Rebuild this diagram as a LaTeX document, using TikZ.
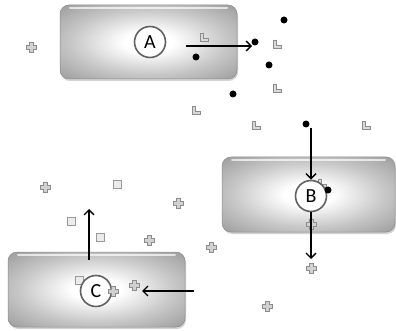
\documentclass[tikz,border=0pt]{standalone}
\usepackage{fontspec}
\setmainfont{Carlito}
\usetikzlibrary{arrows.meta,shadows}
\pgfdeclareradialshading{boxshade}{\pgfpoint{0bp}{0bp}}{color(0bp)=(white); color(7bp)=(white); color(22bp)=(black!22); color(38bp)=(black!42); color(50bp)=(black!58); color(70bp)=(black!70)}
\tikzset{
  cellbox/.style={rounded corners=9pt, draw=black!45, line width=0.5pt,
    shading=boxshade,
    drop shadow={shadow xshift=1pt, shadow yshift=-2pt, opacity=0.35}},
  gloss/.style={white, line width=2pt, opacity=0.7, line cap=round},
  ring/.style={circle, draw=black!62, line width=1.6pt, fill=white,
    minimum size=31pt, inner sep=0pt, font=\fontsize{20}{20}\selectfont},
  flow/.style={line width=1.4pt, -{Straight Barb[length=5pt,width=10pt,line width=1.4pt]}},
  dot/.style={circle, fill=black, inner sep=0pt, minimum size=7pt},
  plusmk/.pic={\filldraw[fill=black!18, draw=black!45, line width=0.9pt]
    (-2,-5) -- (2,-5) -- (2,-2) -- (5,-2) -- (5,2) -- (2,2) -- (2,5) -- (-2,5)
    -- (-2,2) -- (-5,2) -- (-5,-2) -- (-2,-2) -- cycle;},
  lmk/.pic={\filldraw[fill=black!15, draw=black!45, line width=0.9pt]
    (-4,-4) -- (-1,-4) -- (-1,1) -- (4,1) -- (4,4) -- (-4,4) -- cycle;},
  sqmk/.pic={\filldraw[fill=black!8, draw=black!40, line width=0.8pt]
    (-4,-4) rectangle (4,4);}
}
\begin{document}
\begin{tikzpicture}[x=1pt,y=-1pt]
\useasboundingbox (0,0) rectangle (396,331);
% boxes
\path[cellbox] (60,5) rectangle (237,79);
\draw[gloss] (70,8) -- (227,8);
\path[cellbox] (222,157) rectangle (395,232);
\draw[gloss] (232,160) -- (385,160);
\path[cellbox] (8,252) rectangle (185,327);
\draw[gloss] (18,255) -- (175,255);
% glyphs inside / behind
\pic at (204,37) {lmk};
\pic at (322,183) {lmk};
\pic at (79,280) {sqmk};
% rings
\node[ring] (A) at (150,42) {A};
\node[ring] (B) at (311,196) {B};
\node[ring] (C) at (96,291) {C};
% L marks
\pic at (277,44) {lmk};
\pic at (277,88) {lmk};
\pic at (196,110) {lmk};
\pic at (256,125) {lmk};
\pic at (366,125) {lmk};
% plus marks
\pic at (31,47) {plusmk};
\pic at (311,224) {plusmk};
\pic at (211,247) {plusmk};
\pic at (311,268) {plusmk};
\pic at (45,187) {plusmk};
\pic at (178,203) {plusmk};
\pic at (149,240) {plusmk};
\pic at (134,285) {plusmk};
\pic at (113,291) {plusmk};
\pic at (267,306) {plusmk};
% squares
\pic at (117,184) {sqmk};
\pic at (71,221) {sqmk};
\pic at (100,237) {sqmk};
% dots
\node[dot] (d1) at (284,20) {};
\node[dot] (d2) at (255,42) {};
\node[dot] (d3) at (196,57) {};
\node[dot] (d4) at (269,65) {};
\node[dot] (d5) at (233,94) {};
\node[dot] (d6) at (306,124) {};
\node[dot] (d7) at (328,190) {};
% arrows
\coordinate (a0) at (186,46);
\coordinate (a1) at (252,46);
\draw[flow] (a0) -- (a1);
\coordinate (b0) at (311,128);
\draw[flow] (b0) -- (B.north);
\coordinate (b1) at (311,259);
\draw[flow] (B.south) -- (b1);
\coordinate (c0) at (89,260);
\coordinate (c1) at (89,209);
\draw[flow] (c0) -- (c1);
\coordinate (c2) at (194,291);
\coordinate (c3) at (142,291);
\draw[flow] (c2) -- (c3);
\end{tikzpicture}
\end{document}
